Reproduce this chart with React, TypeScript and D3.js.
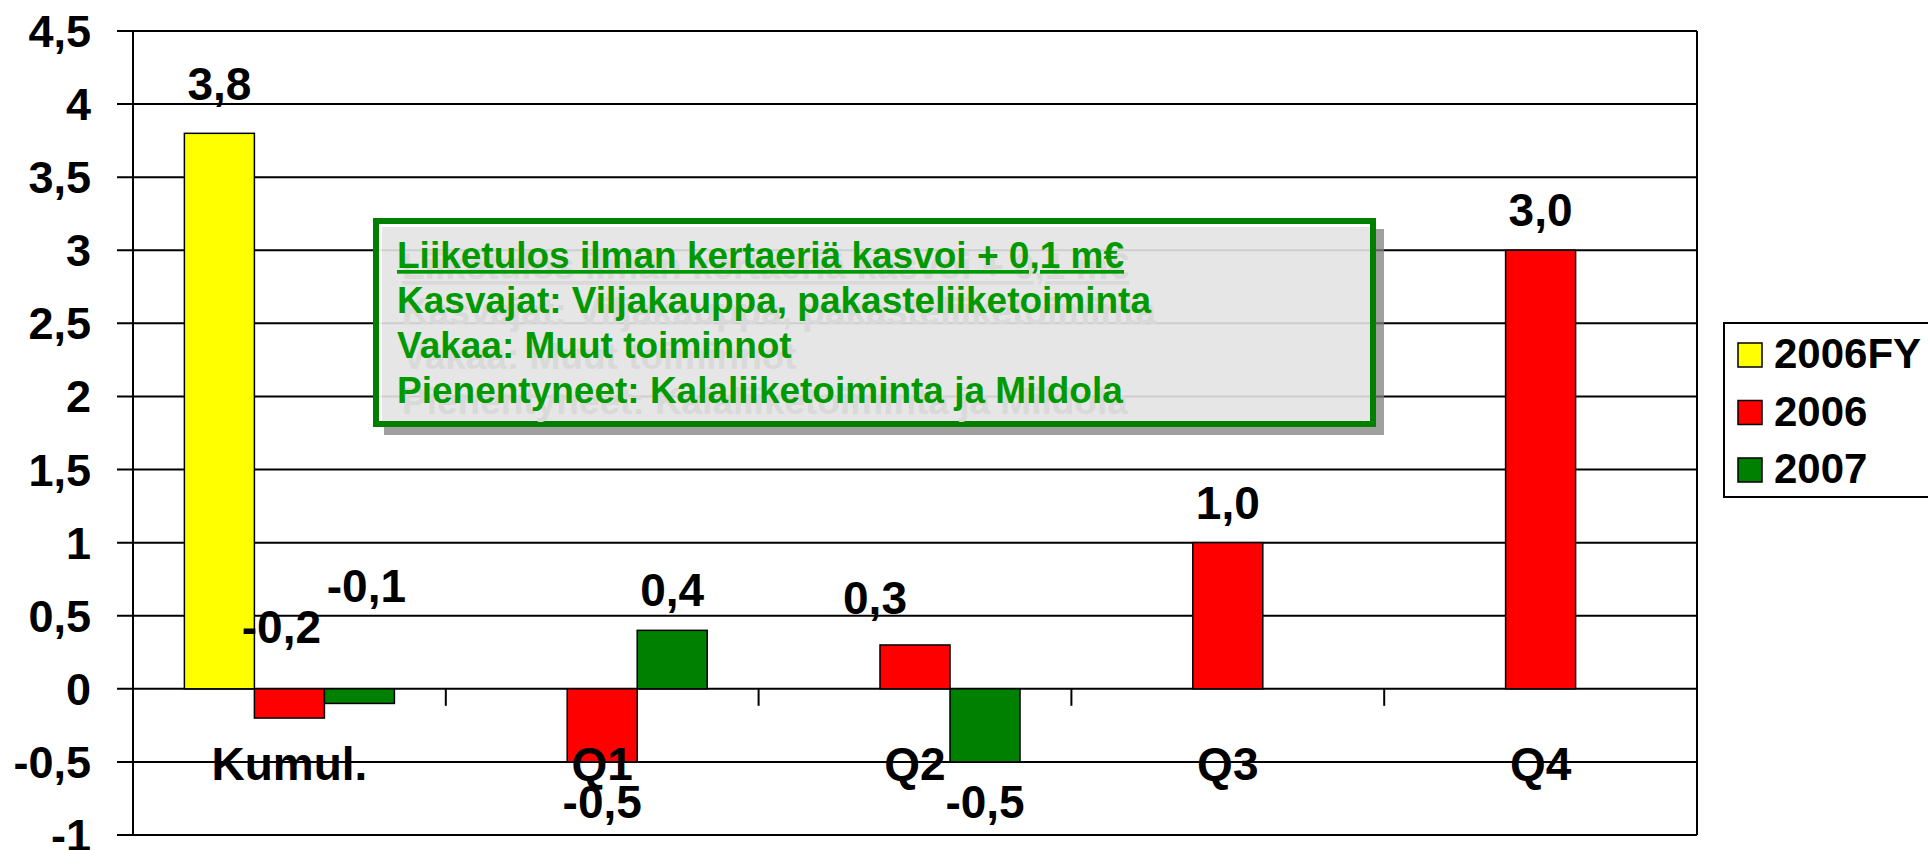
import React, { useEffect, useRef } from 'react';
import * as d3 from 'd3';

const categories = ['Kumul.', 'Q1', 'Q2', 'Q3', 'Q4'];
const seriesNames = ['2006FY', '2006', '2007'];
const values2006FY = [3.8, null, null, null, null];
const values2006 = [-0.2, -0.5, 0.3, 1.0, 3.0];
const values2007 = [-0.1, 0.4, -0.5, null, null];
const yTicks = [-1, -0.5, 0, 0.5, 1, 1.5, 2, 2.5, 3, 3.5, 4, 4.5];
const noteLines = [
  'Liiketulos ilman kertaeriä kasvoi + 0,1 m€',
  'Kasvajat: Viljakauppa, pakasteliiketoiminta',
  'Vakaa: Muut toiminnot',
  'Pienentyneet: Kalaliiketoiminta ja Mildola',
];

const colors: any = { '2006FY': '#ffff00', '2006': '#ff0000', '2007': '#008000' };
// labels that were dragged by hand in the original
const labelNudge: any = {
  '2006FY|Kumul.': [0, -9],
  '2006|Kumul.': [-8, -131],
  '2007|Kumul.': [7, -157],
  '2006|Q2': [-40, -7],
};

const font = 'Liberation Sans, Arial, sans-serif';
const comma = (v: number, d = 1) => v.toFixed(d).replace('.', ',');

function App() {
  const ref = useRef<any>(null);
  const dims = { width: 1928, height: 850, left: 133, right: 1697, top: 31, bottom: 835 };

  useEffect(() => {
    const svg = d3.select(ref.current);
    svg.selectAll('*').remove();

    const table = seriesNames.map((s, si) => ({
      name: s,
      values: [values2006FY, values2006, values2007][si],
    }));

    const y = d3.scaleLinear().domain([-1, 4.5]).range([dims.bottom, dims.top]);
    const x0 = d3.scaleBand().domain(categories).range([dims.left, dims.right]).padding(0);
    const x1 = d3
      .scaleBand()
      .domain(seriesNames)
      .range([0, x0.bandwidth()])
      .paddingInner(0)
      .paddingOuter(0.734);

    // gridlines + left ticks
    svg
      .append('g')
      .selectAll('line')
      .data(yTicks)
      .join('line')
      .attr('x1', dims.left - 16)
      .attr('x2', dims.right)
      .attr('y1', (d) => y(d))
      .attr('y2', (d) => y(d))
      .attr('stroke', '#000')
      .attr('stroke-width', 2);

    svg
      .append('line')
      .attr('x1', dims.left)
      .attr('x2', dims.left)
      .attr('y1', dims.top)
      .attr('y2', dims.bottom)
      .attr('stroke', '#000')
      .attr('stroke-width', 2);
    svg
      .append('line')
      .attr('x1', dims.right)
      .attr('x2', dims.right)
      .attr('y1', dims.top)
      .attr('y2', dims.bottom)
      .attr('stroke', '#000')
      .attr('stroke-width', 2);

    // category ticks on zero line
    svg
      .append('g')
      .selectAll('line')
      .data(categories.slice(1))
      .join('line')
      .attr('x1', (d) => x0(d)!)
      .attr('x2', (d) => x0(d)!)
      .attr('y1', y(0))
      .attr('y2', y(0) + 17)
      .attr('stroke', '#000')
      .attr('stroke-width', 2);

    // bars
    const bars: any[] = [];
    table.forEach((s) =>
      s.values.forEach((v, i) => {
        if (v == null) return;
        bars.push({ series: s.name, cat: categories[i], value: v });
      })
    );

    svg
      .append('g')
      .selectAll('rect')
      .data(bars)
      .join('rect')
      .attr('x', (d) => x0(d.cat)! + x1(d.series)!)
      .attr('width', x1.bandwidth())
      .attr('y', (d) => y(Math.max(0, d.value)))
      .attr('height', (d) => Math.abs(y(d.value) - y(0)))
      .attr('fill', (d) => colors[d.series])
      .attr('stroke', '#000')
      .attr('stroke-width', 1.5);

    // note box
    const box = { x: 376, y: 221, w: 997, h: 203 };
    svg
      .append('rect')
      .attr('x', box.x + 8)
      .attr('y', box.y + 8)
      .attr('width', box.w + 3)
      .attr('height', box.h + 3)
      .attr('fill', '#808080')
      .attr('fill-opacity', 0.75);
    svg
      .append('rect')
      .attr('x', box.x)
      .attr('y', box.y)
      .attr('width', box.w)
      .attr('height', box.h)
      .attr('fill', '#fff');
    svg
      .append('rect')
      .attr('x', box.x + 6)
      .attr('y', box.y + 6)
      .attr('width', box.w - 6)
      .attr('height', box.h - 6)
      .attr('fill', 'rgb(227,227,227)')
      .attr('fill-opacity', 0.9);
    // gridlines show faintly through the box
    svg
      .append('g')
      .selectAll('line')
      .data(yTicks.filter((t) => y(t) > box.y && y(t) < box.y + box.h))
      .join('line')
      .attr('x1', box.x)
      .attr('x2', box.x + box.w)
      .attr('y1', (d) => y(d))
      .attr('y2', (d) => y(d))
      .attr('stroke', '#000')
      .attr('stroke-opacity', 0.1)
      .attr('stroke-width', 2);
    svg
      .append('rect')
      .attr('x', box.x)
      .attr('y', box.y)
      .attr('width', box.w)
      .attr('height', box.h)
      .attr('fill', 'none')
      .attr('stroke', '#008000')
      .attr('stroke-width', 6);

    const note = svg.append('g').attr('font-family', font).attr('font-weight', 'bold').attr('font-size', 37);
    [
      { dx: 5, dy: 11, fill: '#d9d9d9' },
      { dx: 0, dy: 0, fill: '#009900' },
    ].forEach((layer) => {
      note
        .append('g')
        .selectAll('text')
        .data(noteLines)
        .join('text')
        .attr('x', 397 + layer.dx)
        .attr('y', (d, i) => 268 + i * 45 + layer.dy)
        .attr('fill', layer.fill)
        .attr('text-decoration', (d, i) => (i === 0 ? 'underline' : null))
        .text((d) => d);
    });

    // value labels
    svg
      .append('g')
      .attr('font-family', font)
      .attr('font-weight', 'bold')
      .attr('font-size', 46)
      .attr('text-anchor', 'middle')
      .selectAll('text')
      .data(bars)
      .join('text')
      .attr('x', (d) => {
        const n = labelNudge[d.series + '|' + d.cat] || [0, 0];
        return x0(d.cat)! + x1(d.series)! + x1.bandwidth() / 2 + n[0];
      })
      .attr('y', (d) => {
        const n = labelNudge[d.series + '|' + d.cat] || [0, 0];
        return (d.value >= 0 ? y(d.value) - 24 : y(d.value) + 56) + n[1];
      })
      .attr('fill', '#000')
      .text((d) => comma(d.value));

    // category labels
    svg
      .append('g')
      .attr('font-family', font)
      .attr('font-weight', 'bold')
      .attr('font-size', 46)
      .attr('text-anchor', 'middle')
      .selectAll('text')
      .data(categories)
      .join('text')
      .attr('x', (d) => x0(d)! + x0.bandwidth() / 2)
      .attr('y', y(0) + 91)
      .text((d) => d);

    // y tick labels
    svg
      .append('g')
      .attr('font-family', font)
      .attr('font-weight', 'bold')
      .attr('font-size', 45)
      .attr('text-anchor', 'end')
      .selectAll('text')
      .data(yTicks)
      .join('text')
      .attr('x', 91)
      .attr('y', (d) => y(d) + 16)
      .text((d) => (Number.isInteger(d) ? String(d) : comma(d)));

    // legend
    const legend = svg.append('g').attr('font-family', font).attr('font-weight', 'bold').attr('font-size', 42);
    legend
      .append('rect')
      .attr('x', 1724)
      .attr('y', 323)
      .attr('width', 230)
      .attr('height', 174)
      .attr('fill', '#fff')
      .attr('stroke', '#000')
      .attr('stroke-width', 2);
    const items = legend
      .selectAll('g.item')
      .data(seriesNames)
      .join('g')
      .attr('class', 'item')
      .attr('transform', (d, i) => `translate(1738,${343 + i * 57.5})`);
    items
      .append('rect')
      .attr('width', 24)
      .attr('height', 24)
      .attr('fill', (d) => colors[d])
      .attr('stroke', '#000')
      .attr('stroke-width', 1.5);
    items
      .append('text')
      .attr('x', 36)
      .attr('y', 25)
      .text((d) => d);
  });

  return (
    <div id="chartArea">
      <svg
        ref={ref}
        width={dims.width}
        height={dims.height}
        style={{ position: 'absolute', left: 0, top: 0, background: '#fff' }}
      ></svg>
    </div>
  );
}

export default App;
